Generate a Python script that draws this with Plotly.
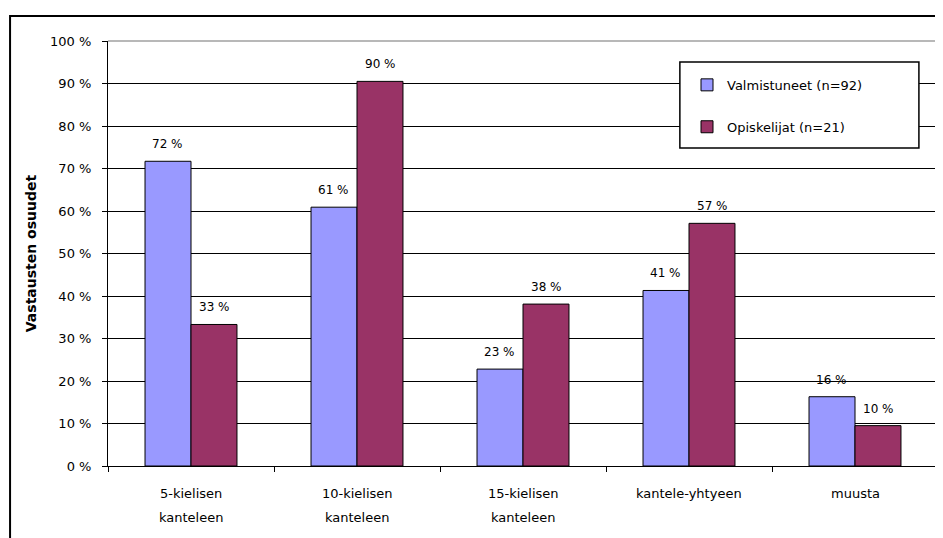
import plotly.graph_objects as go

# ─────────────────────────────────────────────────────────────────────────────
# Data
# ─────────────────────────────────────────────────────────────────────────────

categories = ["5-kielisen<br>kanteleen", "10-kielisen<br>kanteleen", "15-kielisen<br>kanteleen",
              "kantele-yhtyeen", "muusta"]
valmistuneet = [71.7, 60.9, 22.8, 41.3, 16.3]
opiskelijat = [33.3, 90.5, 38.1, 57.1, 9.5]
series_names = ["Valmistuneet (n=92)", "Opiskelijat (n=21)"]
series_colors = ["#9999FF", "#993366"]
y_ticks = list(range(0, 101, 10))
y_tick_labels = [f"{v} %" for v in y_ticks]

FONT = "DejaVu Sans, Verdana, sans-serif"

fig = go.Figure()
for i, (name, vals, col) in enumerate(zip(series_names, [valmistuneet, opiskelijat], series_colors)):
    fig.add_trace(go.Bar(
        x=categories, y=vals, name=name, legendgroup=f"g{i}",
        marker=dict(color=col, line=dict(color="black", width=1)),
    ))

# value labels above the bars
offset = 0.1386
for i, vals in enumerate([valmistuneet, opiskelijat]):
    for k, v in enumerate(vals):
        fig.add_annotation(x=k + (-offset if i == 0 else offset), y=v, xref="x", yref="y",
                           text=f"{round(v)} %", showarrow=False, yanchor="bottom", yshift=8,
                           font=dict(family=FONT, size=12, color="black"))

# category labels (two lines, wide line spacing like the original)
for k, cat in enumerate(categories):
    for j, line in enumerate(cat.split("<br>")):
        fig.add_annotation(x=k, y=0, xref="x", yref="paper", text=line, showarrow=False,
                           yanchor="middle", yshift=-27 - 24 * j,
                           font=dict(family=FONT, size=13, color="black"))

# plot-area border (gray, top/right) and outer chart frame
fig.add_shape(type="line", xref="paper", yref="paper", x0=0, x1=1, y0=1, y1=1,
              line=dict(color="#A0A0A0", width=1.5))
fig.add_shape(type="line", xref="paper", yref="paper", x0=1, x1=1, y0=0, y1=1,
              line=dict(color="#A0A0A0", width=1.5))
fig.add_shape(type="rect", xref="paper", yref="paper", x0=-0.118, x1=1.2, y0=-0.4, y1=1.0588,
              line=dict(color="black", width=2))
# legend box
fig.add_shape(type="rect", xref="paper", yref="paper", x0=0.689, x1=0.977, y0=0.748, y1=0.9506,
              fillcolor="white", line=dict(color="black", width=1.5), layer="above")

fig.update_layout(
    width=935, height=530,
    margin=dict(l=100, r=5, t=33, b=72),
    paper_bgcolor="white", plot_bgcolor="white",
    font=dict(family=FONT, size=13, color="black"),
    barmode="group", bargap=0.446, bargroupgap=0,
    showlegend=True,
    legend=dict(x=0.6976, y=0.932, xanchor="left", yanchor="top",
                bgcolor="rgba(0,0,0,0)", borderwidth=0,
                font=dict(family=FONT, size=13), tracegroupgap=22,
                itemclick=False),
    xaxis=dict(type="category", tickson="boundaries", ticks="outside", ticklen=5,
               tickcolor="black", showline=True, linecolor="black", linewidth=1,
               showgrid=False, showticklabels=False),
    yaxis=dict(range=[0, 100], tickvals=y_ticks, ticktext=y_tick_labels,
               ticks="outside", ticklen=5, tickcolor="black", ticklabelstandoff=8,
               showline=True, linecolor="black", linewidth=1,
               showgrid=True, gridcolor="black", gridwidth=1, zeroline=False,
               tickfont=dict(size=13),
               title=dict(text="<b>Vastausten osuudet</b>", font=dict(size=14), standoff=10)),
)

fig.write_html("out.html")
